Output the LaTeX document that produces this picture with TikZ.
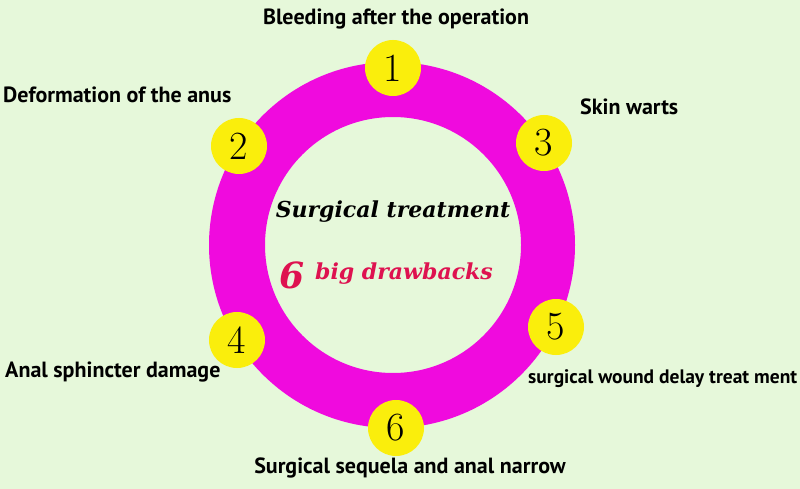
\documentclass[tikz,border=0pt]{standalone}
\usepackage{fontspec}
\newfontfamily\labelfont{PT Sans}
\newfontfamily\titlefont{DejaVu Serif}
\usepackage{xcolor}
\usetikzlibrary{positioning}

\definecolor{bgGreen}{RGB}{230,248,218}
\definecolor{ringPink}{RGB}{240,10,222}
\definecolor{dotYellow}{RGB}{250,238,12}
\definecolor{drawRed}{RGB}{222,18,80}

\begin{document}
\begin{tikzpicture}[
  x=1pt, y=-1pt,
  numdot/.style={circle, fill=dotYellow, minimum size=56pt, inner sep=0pt, font=\fontsize{40}{40}\selectfont},
  lab/.style={font=\labelfont\bfseries\fontsize{22}{22}\selectfont, inner sep=0pt},
  title/.style={font=\titlefont\bfseries\itshape\fontsize{22}{22}\selectfont, inner sep=0pt}
]
  % background and ring
  \fill[bgGreen] (0,0) rectangle (800,489);
  \useasboundingbox (0,0) rectangle (800,489);
  \fill[ringPink, even odd rule] (392,245) circle[radius=183pt] (393,245) circle[radius=128pt];

  % numbered dots
  \node[numdot] (n1) at (393,68) {1};
  \node[numdot] (n2) at (239,146) {2};
  \node[numdot] (n3) at (544,143) {3};
  \node[numdot] (n4) at (237,340) {4};
  \node[numdot] (n5) at (556,327) {5};
  \node[numdot] (n6) at (396,428) {6};

  % labels
  \node[lab] (l1) at (396,19) {Bleeding after the operation};
  \node[lab, anchor=west] (l2) at (3,95) {Deformation of the anus};
  \node[lab, anchor=west] (l3) at (580,107) {Skin warts};
  \node[lab, anchor=west, font=\labelfont\bfseries\fontsize{19.5}{19.5}\selectfont] (l5) at (528,379) {surgical wound delay treat ment};
  \node[lab, anchor=west] (l4) at (5,372) {Anal sphincter damage};
  \node[lab] (l6) at (410,468) {Surgical sequela and anal narrow};

  % centre text
  \node[title] (head) at (393,212) {Surgical treatment};
  \node[title, text=drawRed, anchor=west] (sub) at (315,274) {big drawbacks};
  \node[title, text=drawRed, font=\titlefont\bfseries\itshape\fontsize{36}{36}\selectfont, left=10pt of sub, yshift=-1pt] (six) {6};
\end{tikzpicture}
\end{document}
